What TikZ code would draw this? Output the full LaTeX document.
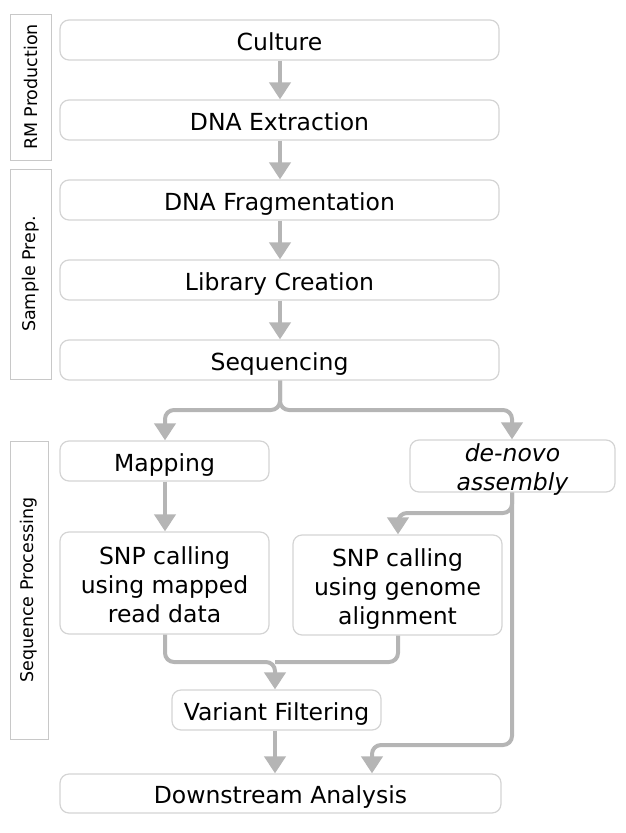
\documentclass[tikz,border=0pt]{standalone}
\usepackage{fontspec}
\setmainfont{DejaVu Sans}
\usetikzlibrary{arrows.meta}
\definecolor{boxline}{HTML}{D4D4D4}
\definecolor{sideline}{HTML}{C8C8C8}
\definecolor{arr}{HTML}{B5B5B5}
\newcommand{\tophi}{\rule{0pt}{25.5pt}}
\newcommand{\botlo}{\rule[-5.5pt]{0pt}{5.5pt}}
\begin{document}
\begin{tikzpicture}[x=1pt,y=-1pt,
  stepbox/.style={draw=boxline,line width=1.2pt,rounded corners=9pt,fill=white,
    inner sep=0pt,align=center,font=\fontsize{23.5}{29}\selectfont},
  sidebox/.style={draw=sideline,line width=1pt,inner sep=0pt,rotate=90,
    font=\fontsize{17.5}{20}\selectfont},
  flow/.style={draw=arr,line width=4pt,rounded corners=9pt,
    -{Triangle[width=21pt,length=17pt]}},
  flowline/.style={draw=arr,line width=4pt,rounded corners=9pt}]
\useasboundingbox (0,0) rectangle (626,833);
% side labels
\node[sidebox,minimum width=146pt,minimum height=41pt] (rm) at (30.5,87) {RM Production};
\node[sidebox,minimum width=210pt,minimum height=41pt] (sp) at (30.5,274) {Sample Prep.};
\node[sidebox,minimum width=298pt,minimum height=38pt] (sq) at (29,590) {Sequence Processing};
% main steps
\node[stepbox,minimum width=439pt,minimum height=40pt] (cul) at (279.5,40) {\tophi\botlo Culture};
\node[stepbox,minimum width=439pt,minimum height=40pt] (ext) at (279.5,120) {\tophi\botlo DNA Extraction};
\node[stepbox,minimum width=439pt,minimum height=40pt] (frag) at (279.5,200) {\tophi\botlo DNA Fragmentation};
\node[stepbox,minimum width=439pt,minimum height=40pt] (lib) at (279.5,280) {\tophi\botlo Library Creation};
\node[stepbox,minimum width=439pt,minimum height=40pt] (seq) at (279.5,360) {\tophi\botlo Sequencing};
\node[stepbox,minimum width=209pt,minimum height=40pt] (map) at (164.5,461) {\tophi\botlo Mapping};
\node[stepbox,minimum width=205pt,minimum height=52pt] (den) at (512.5,466) {\rule{0pt}{20pt}\itshape de-novo\\\smash{\itshape assembly}};
\node[stepbox,minimum width=209pt,minimum height=102pt] (snpl) at (164.5,583) {\tophi SNP calling\\using mapped\\\botlo read data};
\node[stepbox,minimum width=209pt,minimum height=100pt] (snpr) at (397.5,585) {\tophi SNP calling\\using genome\\\botlo alignment};
\node[stepbox,minimum width=209pt,minimum height=40pt] (var) at (276.5,710) {\tophi\botlo Variant Filtering};
\node[stepbox,minimum width=441pt,minimum height=39pt] (down) at (280.5,793.5) {\tophi\botlo Downstream Analysis};
% junction coordinates
\coordinate (sj) at (280,410);
\coordinate (dj) at (512,513);
\coordinate (dj2) at (512,745);
\coordinate (vj) at (275,662);
% arrows
\draw[flow] (cul.south -| 280,0) -- (ext.north -| 280,0);
\draw[flow] (ext.south -| 280,0) -- (frag.north -| 280,0);
\draw[flow] (frag.south -| 280,0) -- (lib.north -| 280,0);
\draw[flow] (lib.south -| 280,0) -- (seq.north -| 280,0);
\draw[flow] (seq.south -| sj) |- (165,410) -- (map.north -| 165,0);
\draw[flow] (seq.south -| sj) |- (512,410) -- (den.north -| 512,0);
\draw[flow] (map.south -| 165,0) -- (snpl.north -| 165,0);
\draw[flow] (den.south -| dj) |- (398,513) -- (snpr.north -| 398,0);
\draw[flow] (den.south -| dj) -- (dj2) -| (down.north -| 372,0);
\draw[flow] (snpl.south -| 165,0) |- (vj) -- (var.north -| vj);
\draw[flowline] (snpr.south -| 398,0) |- (vj);
\draw[flow] (var.south -| vj) -- (down.north -| vj);
\end{tikzpicture}
\end{document}
